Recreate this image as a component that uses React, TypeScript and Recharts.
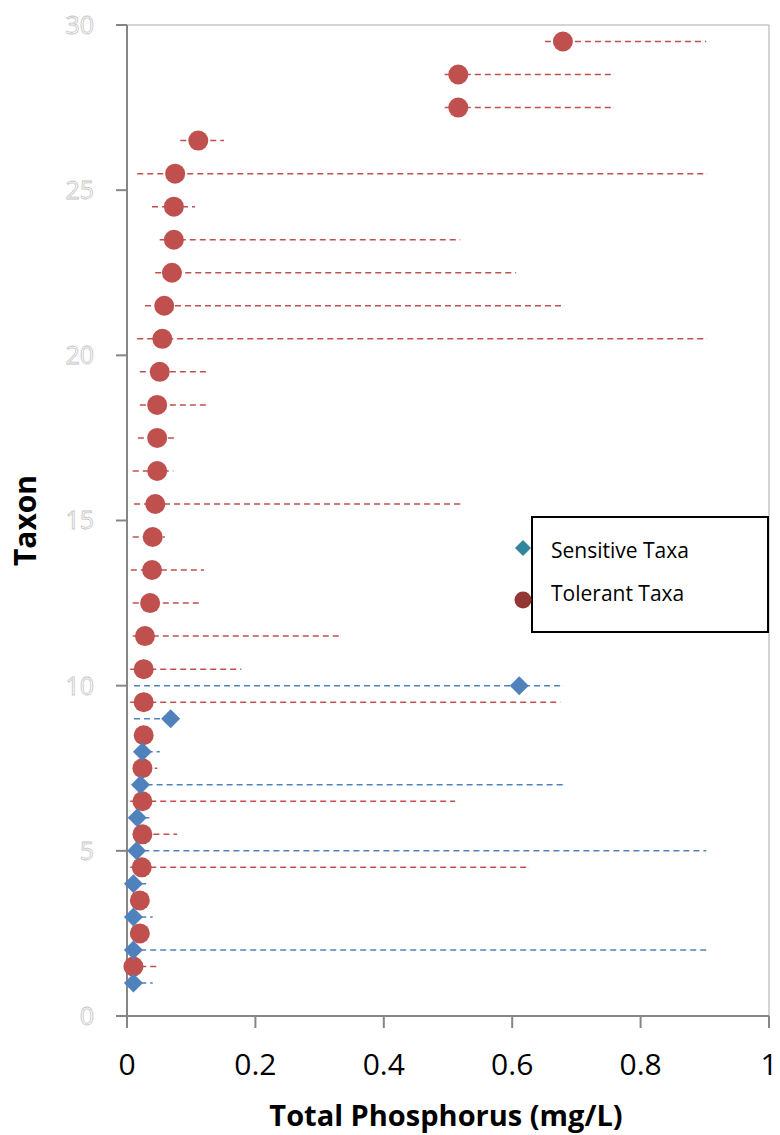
import { ScatterChart, Scatter, XAxis, YAxis, ErrorBar, ReferenceLine, Label } from 'recharts'

const font = '"Open Sans", "Noto Sans", sans-serif'

const tolerantY = [1.5, 2.5, 3.5, 4.5, 5.5, 6.5, 7.5, 8.5, 9.5, 10.5, 11.5, 12.5, 13.5, 14.5, 15.5, 16.5, 17.5, 18.5, 19.5, 20.5, 21.5, 22.5, 23.5, 24.5, 25.5, 26.5, 27.5, 28.5, 29.5]
const tolerantX = [0.010, 0.020, 0.020, 0.023, 0.024, 0.024, 0.024, 0.026, 0.026, 0.026, 0.028, 0.036, 0.039, 0.040, 0.044, 0.047, 0.047, 0.047, 0.051, 0.055, 0.058, 0.070, 0.073, 0.073, 0.075, 0.111, 0.516, 0.516, 0.679]
const tolerantLo = [0.005, 0.015, 0.015, 0.005, 0.010, 0.005, 0.012, 0.015, 0.005, 0.005, 0.009, 0.009, 0.006, 0.009, 0.011, 0.009, 0.017, 0.020, 0.020, 0.016, 0.028, 0.044, 0.051, 0.039, 0.016, 0.083, 0.495, 0.495, 0.651]
const tolerantHi = [0.046, 0.025, 0.025, 0.625, 0.078, 0.511, 0.047, 0.046, 0.675, 0.178, 0.332, 0.112, 0.120, 0.059, 0.519, 0.072, 0.079, 0.123, 0.123, 0.902, 0.682, 0.606, 0.519, 0.106, 0.902, 0.151, 0.757, 0.757, 0.902]

const sensitiveY = [1, 2, 3, 4, 5, 6, 7, 8, 9, 10]
const sensitiveX = [0.010, 0.010, 0.010, 0.010, 0.015, 0.016, 0.021, 0.024, 0.068, 0.611]
const sensitiveLo = [0.005, 0.005, 0.005, 0.005, 0.010, 0.010, 0.015, 0.015, 0.011, 0.011]
const sensitiveHi = [0.040, 0.902, 0.040, 0.033, 0.902, 0.040, 0.679, 0.051, 0.070, 0.679]

const xTicks = [0, 0.2, 0.4, 0.6, 0.8, 1]
const yTicks = [0, 5, 10, 15, 20, 25, 30]

const build = (xs: number[], ys: number[], lo: number[], hi: number[]) =>
  xs.map((x, i) => ({ x, y: ys[i], err: [x - lo[i], hi[i] - x] }))

const tolerant = build(tolerantX, tolerantY, tolerantLo, tolerantHi)
const sensitive = build(sensitiveX, sensitiveY, sensitiveLo, sensitiveHi)

const Dot = (p: any) => <circle cx={p.cx} cy={p.cy} r={10} fill="#C0504D" />
const Diamond = (p: any) => (
  <polygon points={`${p.cx},${p.cy - 9.5} ${p.cx + 9.5},${p.cy} ${p.cx},${p.cy + 9.5} ${p.cx - 9.5},${p.cy}`} fill="#4F81BD" />
)

// legend drawn on top as its own svg, like the Excel text box
const LegendBox = () => (
  <svg width={780} height={1135} style={{ position: 'absolute', left: 0, top: 0, pointerEvents: 'none' }}>
    <rect x={532} y={517} width={236} height={115} fill="#fff" stroke="#000" strokeWidth={2} />
    <polygon points="523,540 531,548 523,556 515,548" fill="#31859C" />
    <circle cx={523} cy={600} r={8.5} fill="#943634" />
    <text x={551} y={558} fontSize={21} fontFamily={font} fill="#000">Sensitive Taxa</text>
    <text x={551} y={601} fontSize={21} fontFamily={font} fill="#000">Tolerant Taxa</text>
  </svg>
)

export default function App() {
  return (
    <div style={{ position: 'absolute', left: 0, top: 0, width: 780, height: 1135, background: '#fff' }}>
      <ScatterChart width={780} height={1135} margin={{ top: 25, right: 11, bottom: 0, left: 0 }}>
        <XAxis
          type="number" dataKey="x" domain={[0, 1]} ticks={xTicks} height={119}
          tick={{ fontSize: 30, fill: '#000', fontFamily: font, dy: 24 }}
          stroke="#868686" strokeWidth={2} tickSize={12}
        >
          <Label value="Total Phosphorus (mg/L)" position="insideBottom" offset={9} dx={-2}
            style={{ fontSize: 29, fontWeight: 700, fill: '#000', fontFamily: font }} />
        </XAxis>
        <YAxis
          type="number" dataKey="y" domain={[0, 30]} ticks={yTicks} width={127}
          tick={{ fontSize: 25, fill: '#fff', stroke: '#c4c4c4', strokeWidth: 0.8, fontFamily: font, dx: -20 }}
          stroke="#868686" strokeWidth={2} tickSize={11}
        >
          <Label value="Taxon" angle={-90} position="insideLeft" offset={25}
            style={{ fontSize: 30, fontWeight: 700, fill: '#000', fontFamily: font, textAnchor: 'middle' }} />
        </YAxis>
        <ReferenceLine y={30} stroke="#c6c6c6" strokeWidth={1.5} />
        <ReferenceLine x={1} stroke="#c6c6c6" strokeWidth={1.5} />
        <Scatter name="Tolerant Taxa" data={tolerant} shape={Dot} isAnimationActive={false}>
          <ErrorBar dataKey="err" direction="x" width={0} stroke="#C0504D" strokeWidth={1.5} strokeDasharray="6 4" />
        </Scatter>
        <Scatter name="Sensitive Taxa" data={sensitive} shape={Diamond} isAnimationActive={false}>
          <ErrorBar dataKey="err" direction="x" width={0} stroke="#4F81BD" strokeWidth={1.5} strokeDasharray="6 4" />
        </Scatter>
      </ScatterChart>
      <LegendBox />
    </div>
  )
}
